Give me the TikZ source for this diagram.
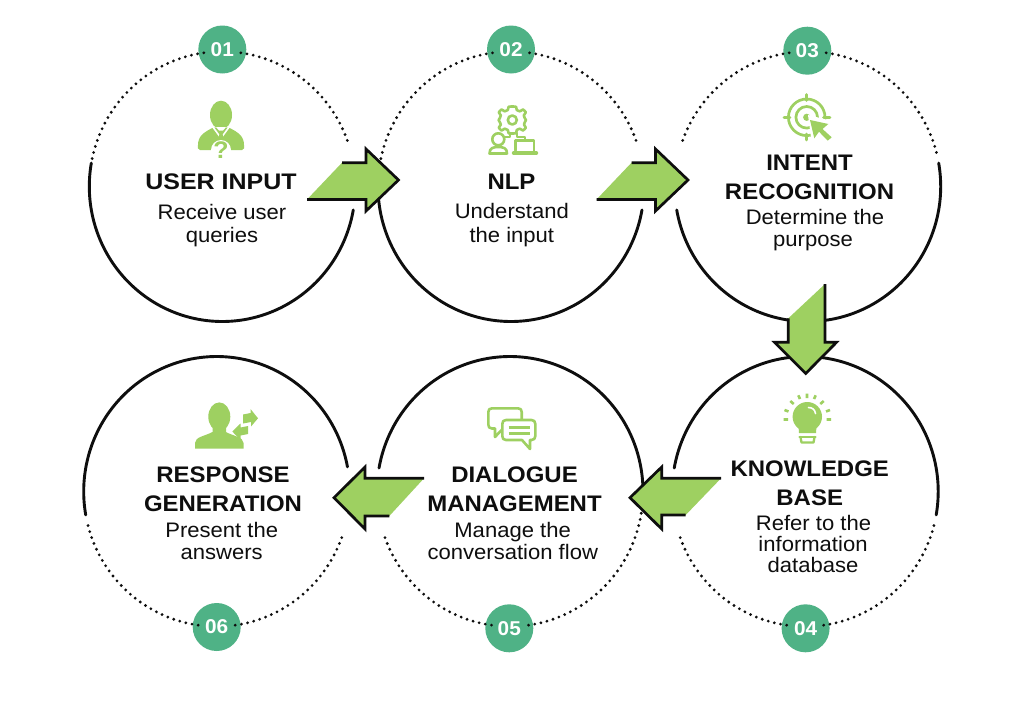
\documentclass[tikz,border=0pt]{standalone}
\usepackage{fontspec}
\newfontfamily\titlef[FakeStretch=1.065]{Liberation Sans}
\newfontfamily\titlewidef[FakeStretch=1.11]{Liberation Sans}
\newfontfamily\bodyf[FakeStretch=1.05]{Liberation Sans}
\newfontfamily\badgef[FakeStretch=1.04]{Liberation Sans}
\definecolor{leaf}{RGB}{158,208,97}
\definecolor{teal}{RGB}{79,178,134}
\definecolor{ink}{RGB}{14,14,14}
\tikzset{
  heading/.style={anchor=base,inner sep=0pt,text=ink,font=\titlef\bfseries\fontsize{22.5}{22}\selectfont},
  blurb/.style={anchor=base,inner sep=0pt,text=ink,font=\bodyf\fontsize{21}{22}\selectfont},
  badge/.style={circle,fill=teal,minimum size=48pt,inner sep=0pt,text=white,font=\badgef\bfseries\fontsize{20}{20}\selectfont},
  solidring/.style={draw=ink,line width=2.9pt,line cap=round},
  dotring/.style={draw=ink,line width=3.1pt,line cap=round,dash pattern=on 0pt off 6.3pt},
  blockfill/.style={fill=leaf,draw=none},
  blockline/.style={draw=ink,line width=2.7pt,miter limit=10},
  glyphline/.style={draw=leaf,line width=2.6pt,line cap=round,line join=round},
  glyphfill/.style={fill=leaf,draw=none}
}
% one elliptical ring segment: style, centre x, centre y, from angle, to angle
\newcommand{\ringpart}[5]{\draw[#1] plot[domain=#4:#5,samples=140,variable=\t] ({#2+133*cos(\t)},{#3-135*sin(\t)});}
\begin{document}
\begin{tikzpicture}[x=1pt,y=-1pt]
\useasboundingbox[fill=white] (0,0) rectangle (1024,707);

% step numbers
\node[badge] (b1) at (222.3,49.5) {01};
\node[badge] (b2) at (511,49.5) {02};
\node[badge] (b3) at (807.3,50.7) {03};
\node[badge] (b4) at (805.6,628.3) {04};
\node[badge] (b5) at (509.3,628.3) {05};
\node[badge] (b6) at (216.7,627) {06};

% upper row of rings
\ringpart{solidring}{222.3}{186.5}{170}{350}
\ringpart{dotring}{222.3}{186.5}{98}{169}
\ringpart{dotring}{222.3}{186.5}{82}{17.5}
\ringpart{solidring}{511}{186.5}{175}{350}
\ringpart{dotring}{511}{186.5}{98}{172}
\ringpart{dotring}{511}{186.5}{82}{17.6}
\ringpart{solidring}{807.7}{186.5}{190}{370}
\ringpart{dotring}{807.7}{186.5}{98}{162}
\ringpart{dotring}{807.7}{186.5}{82}{12.3}

% lower row of rings
\ringpart{solidring}{805.2}{491.5}{-10}{170}
\ringpart{dotring}{805.2}{491.5}{262}{198}
\ringpart{dotring}{805.2}{491.5}{278}{348}
\ringpart{solidring}{510}{491.5}{-3}{170}
\ringpart{dotring}{510}{491.5}{262}{198}
\ringpart{dotring}{510}{491.5}{278}{352}
\ringpart{solidring}{216.7}{491.5}{10.5}{190}
\ringpart{dotring}{216.7}{491.5}{262}{192}
\ringpart{dotring}{216.7}{491.5}{278}{342.3}

% block arrows between the steps: open diagonal tail, outline on the other sides
\foreach \dx in {0,289.5}{
  \begin{scope}[shift={(\dx,0)}]
    \fill[blockfill] (342,162.7)--(366,162.7)--(366,148)--(398.5,180)--(366,212)--(366,199.5)--(307,199.5)--cycle;
    \draw[blockline] (342,162.7)--(366,162.7)--(366,149)--(398.5,180)--(366,211)--(366,199.5)--(307,199.5);
  \end{scope}
}
\fill[blockfill] (825,284)--(825,342.3)--(837,342.3)--(805.7,374)--(774,342.3)--(788.3,342.3)--(788.3,318.3)--cycle;
\draw[blockline] (825,284)--(825,342.3)--(836.5,342.3)--(805.7,373.5)--(774.5,342.3)--(788.3,342.3)--(788.3,318.3);
\fill[blockfill] (721,478.3)--(661.7,478.3)--(661.7,466.5)--(630,497.7)--(661.7,529.5)--(661.7,515)--(685.7,515)--cycle;
\draw[blockline] (721,478.3)--(661.7,478.3)--(661.7,467)--(630,497.7)--(661.7,529)--(661.7,515)--(685.7,515);
\fill[blockfill] (424,478.3)--(365,478.3)--(365,466.5)--(334,497.7)--(365,529.5)--(365,516)--(389.3,516)--cycle;
\draw[blockline] (424,478.3)--(365,478.3)--(365,467)--(334,497.7)--(365,529)--(365,516)--(389.3,516);

% step titles and descriptions
\node[heading,font=\titlewidef\bfseries\fontsize{22.5}{22}\selectfont] (t1) at (221,189) {USER INPUT};
\node[blurb] (d1a) at (222,219) {Receive user};
\node[blurb] (d1b) at (222,242) {queries};

\node[heading] (t2) at (511.5,189.3) {NLP};
\node[blurb] (d2a) at (511.8,218.3) {Understand};
\node[blurb] (d2b) at (511.8,242) {the input};

\node[heading] (t3a) at (809.5,170) {INTENT};
\node[heading] (t3b) at (809.5,199) {RECOGNITION};
\node[blurb] (d3a) at (815,224.3) {Determine the};
\node[blurb] (d3b) at (813,246) {purpose};

\node[heading] (t4a) at (809.7,476) {KNOWLEDGE};
\node[heading] (t4b) at (809.7,505) {BASE};
\node[blurb] (d4a) at (813.5,530.7) {Refer to the};
\node[blurb] (d4b) at (813,551.7) {information};
\node[blurb] (d4c) at (813,572.7) {database};

\node[heading] (t5a) at (514.5,482.7) {DIALOGUE};
\node[heading] (t5b) at (514.5,511.7) {MANAGEMENT};
\node[blurb] (d5a) at (512.6,537.3) {Manage the};
\node[blurb] (d5b) at (512.8,559) {conversation flow};

\node[heading] (t6a) at (223,482.7) {RESPONSE};
\node[heading] (t6b) at (223,511.7) {GENERATION};
\node[blurb] (d6a) at (221.7,537.3) {Present the};
\node[blurb] (d6b) at (221.7,559.3) {answers};

% person with a question
\fill[glyphfill] (221,115) ellipse[x radius=11,y radius=14.3];
\fill[glyphfill] (200,150) .. controls (197,150) and (198,147) .. (198,145) .. controls (198,136) and (204,132) .. (213.5,127.5) -- (228.5,127.5) .. controls (238,132) and (244,136) .. (244,145) .. controls (244,147) and (245,150) .. (242,150) -- cycle;
\draw[white,line width=1.6pt] (212.5,126.5) -- (221,138) -- (229.5,126.5);
\fill[white] (216,127) -- (226,127) -- (221,133) -- cycle;
\fill[glyphfill] (217.5,130.5) -- (224.5,130.5) -- (222.5,134) -- (224,141) -- (218,141) -- (219.5,134) -- cycle;
\fill[white] (221,150) circle[radius=10];
\node[inner sep=0pt,text=leaf,font=\badgef\bfseries\fontsize{24}{24}\selectfont] (qmark) at (221,150) {?};

% gear, operator and laptop
\draw[glyphline] (512.3,120) circle[radius=4.5];
\draw[glyphline] plot[smooth cycle,tension=0.25] coordinates {
 (512.3,106.5) (516,106.8) (516.8,110) (520,111.3) (523,109.5) (525.8,112.3) (523.8,115.4) (525,118.5) (526,120)
 (525,121.8) (524,124.6) (525.8,127.7) (523,130.5) (520,128.7) (516.8,130) (516,133.2) (512.3,133.5) (508.6,133.2)
 (507.8,130) (504.6,128.7) (501.6,130.5) (498.8,127.7) (500.8,124.6) (499.6,121.8) (498.6,120) (499.6,118.5) (500.8,115.4)
 (498.8,112.3) (501.6,109.5) (504.6,111.3) (507.8,110) (508.6,106.8)};
\draw[glyphline] (498.3,139.3) circle[radius=6];
\draw[glyphline] (489.5,153.5) .. controls (489.5,148) and (493,147) .. (498.3,147) .. controls (503.5,147) and (507,148) .. (507,153.5) -- cycle;
\draw[glyphline] (504,137) -- (510,137) -- (510,133);
\draw[glyphline] (517,133) -- (517,137) -- (525,137) -- (525,140.5);
\draw[glyphline] (515.5,150.5) -- (515.5,140.5) -- (534,140.5) -- (534,150.5);
\draw[glyphline,line width=3.4pt] (513.5,153) -- (536.5,153);

% target with pointer
\draw[glyphline,line width=2.7pt] (806.7,117.3) circle[radius=18.3];
\draw[glyphline,line width=2.7pt] (806.7,117.3) circle[radius=10.8];
\fill[glyphfill] (806.7,117.3) circle[radius=3.6];
\draw[glyphline,line width=2.7pt] (806.7,94.5) -- (806.7,100.5);
\draw[glyphline,line width=2.7pt] (806.7,134) -- (806.7,140);
\draw[glyphline,line width=2.7pt] (784,117.3) -- (790,117.3);
\draw[glyphline,line width=2.7pt] (823.5,117.3) -- (830,117.3);
\fill[white] (808,115) -- (832,121) -- (826,130) -- (835,141) -- (826,146) -- (816,136) -- (812,145) -- cycle;
\fill[glyphfill] (810,120) -- (828.3,124) -- (822.5,129) -- (831.7,137.3) -- (827.7,140.7) -- (819,131.7) -- (814.3,138.3) -- cycle;

% light bulb with rays
\fill[glyphfill] (807.3,416.7) circle[radius=14.7];
\fill[glyphfill] (798.5,426) -- (816.5,426) -- (816,433) -- (799,433) -- cycle;
\draw[white,line width=1.6pt,line cap=round] (808.5,407.5) .. controls (812,407.5) and (815,409.5) .. (815.5,413.5);
\draw[glyphline,line width=2.3pt] (799.5,437) -- (815.5,437);
\draw[glyphline,line width=2.3pt] (800.5,437) -- (801.5,442.5) -- (813.5,442.5) -- (814.5,437);
\draw[glyphline,line width=2.6pt,line cap=butt]
  (807,393.5) -- (807,398) (798.3,395.3) -- (800,399) (815.7,395.3) -- (814,399)
  (790.3,401) -- (793.7,404) (823.7,401) -- (820.3,404)
  (784.5,410) -- (788.5,411.5) (830,410) -- (826,411.5)
  (783.5,419.5) -- (788,419.5) (831,419.5) -- (826.5,419.5);

% chat bubbles
\draw[glyphline] (492,408.3) -- (518,408.3) .. controls (520.5,408.3) and (521.7,409.5) .. (521.7,412) -- (521.7,420)
  (503,428.5) -- (495,437) -- (495,428.5) -- (492,428.5) .. controls (489.5,428.5) and (488.3,427) .. (488.3,424.5) -- (488.3,412) .. controls (488.3,409.5) and (489.5,408.3) .. (492,408.3);
\draw[glyphline,fill=white] (506,420) -- (531.5,420) .. controls (534,420) and (535.3,421.5) .. (535.3,424) -- (535.3,436) .. controls (535.3,438.5) and (534,440) .. (531.5,440) -- (530,440) -- (530,449) -- (522,440) -- (506,440) .. controls (503.5,440) and (502.3,438.5) .. (502.3,436) -- (502.3,424) .. controls (502.3,421.5) and (503.5,420) .. (506,420) -- cycle;
\draw[glyphline,line cap=butt] (508.5,427.5) -- (529.5,427.5) (508.5,433.5) -- (529.5,433.5);

% person with exchange arrows
\fill[glyphfill] (219.3,416.7) ellipse[x radius=11,y radius=14.3];
\fill[glyphfill] (195,448.5) -- (195,443) .. controls (195,437) and (205,436) .. (212.5,432) -- (212.5,426) -- (226,426) -- (226,432) .. controls (233,436) and (243.5,437) .. (243.5,443) -- (243.5,448.5) -- cycle;
\fill[glyphfill] (243,414.5) -- (250.5,413) -- (250.5,409) -- (258,418.3) -- (251,426.5) -- (251,422) -- (243,423.5) -- cycle;
\fill[glyphfill] (248,426) -- (240.5,427.5) -- (240.5,423.5) -- (232.3,431.5) -- (240.5,440) -- (240.5,435.5) -- (248,434) -- cycle;
\end{tikzpicture}
\end{document}
